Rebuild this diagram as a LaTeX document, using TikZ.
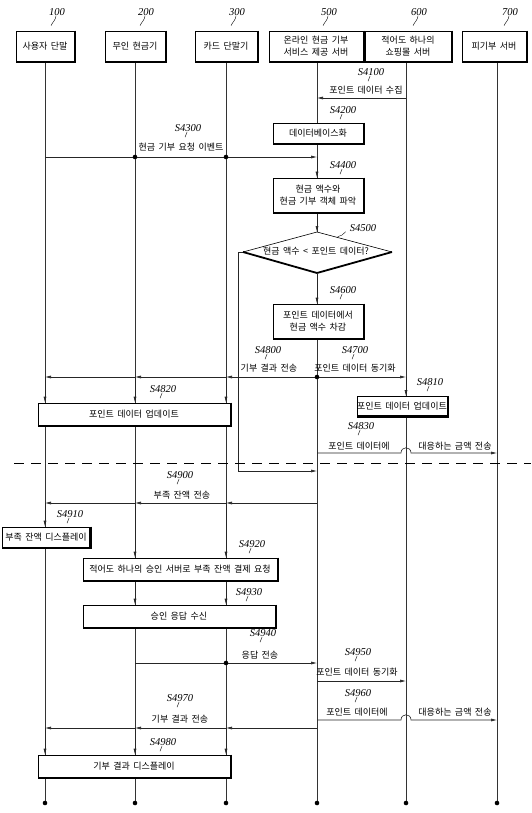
\documentclass[tikz,border=0pt]{standalone}
\usepackage{fontspec}
\setmainfont{Liberation Serif}
\newfontfamily\kr{Noto Sans CJK KR}[WordSpace=1.7]
\usetikzlibrary{arrows.meta,calc}
\newcommand{\stp}[4]{\node[lab] (#1) at (#2,#3) {#4};\draw[tk] ([xshift=-1pt,yshift=-0.5pt]#1.south) -- ++(-2,5);}
\newcommand{\shd}[1]{\draw[sh] ([xshift=0.8pt]#1.north east) -- ([xshift=0.8pt,yshift=-0.8pt]#1.south east) -- ([yshift=-0.8pt]#1.south west);}
\begin{document}
\begin{tikzpicture}[x=1pt,y=-1pt,
  kt/.style={font=\kr\fontsize{9}{11.5}\selectfont, inner sep=0pt, align=center},
  lab/.style={font=\itshape\fontsize{10.5}{12}\selectfont, inner sep=0pt},
  pbox/.style={draw, line width=0.6pt, fill=white, kt},
  life/.style={line width=0.6pt, black!80},
  msg/.style={line width=0.6pt, black!85},
  arr/.style={msg, -{Latex[length=6pt,width=3pt]}},
  sh/.style={line width=1.8pt},
  tk/.style={line width=0.4pt},
  dot/.style={circle, fill=black, inner sep=0pt, minimum size=4.6pt},
  ]
\useasboundingbox (0,0) rectangle (531,813);
% lifeline x positions
\coordinate (L1) at (45,0);
\coordinate (L2) at (135,0);
\coordinate (L3) at (226,0);
\coordinate (L4) at (317,0);
\coordinate (L5) at (406,0);
\coordinate (L6) at (497,0);
% end dots
\foreach \i/\x in {1/45,2/135,3/226,4/317,5/406,6/497}{\node[dot] (e\i) at (\x,803) {};}
% headers
\node[pbox, minimum width=58pt, minimum height=30pt] (h100) at (45,46) {사용자 단말};
\node[pbox, minimum width=60pt, minimum height=30pt] (h200) at (135,46) {무인 현금기};
\node[pbox, minimum width=62pt, minimum height=30pt] (h300) at (226,46) {카드 단말기};
\node[pbox, minimum width=94pt, minimum height=30pt] (h500) at (316,46) {온라인 현금 기부\\서비스 제공 서버};
\node[pbox, minimum width=86pt, minimum height=30pt] (h600) at (408,46) {적어도 하나의\\쇼핑몰 서버};
\node[pbox, minimum width=64pt, minimum height=30pt] (h700) at (494,46) {피기부 서버};
% lifelines
\draw[life] (h100.south -| L1) -- (e1);
\draw[life] (h200.south -| L2) -- (e2);
\draw[life] (h300.south -| L3) -- (e3);
\draw[life] (h500.south -| L4) -- (e4);
\draw[life] (h600.south -| L5) -- (e5);
\draw[life] (h700.south -| L6) -- (e6);
\foreach \n in {h100,h200,h300,h500,h600,h700}{\shd{\n}}
% header numbers
\foreach \n/\x in {100/57,200/146,300/237,500/329,600/419,700/510}{
  \node[lab] (n\n) at (\x,12) {\n};
  \draw[tk] ([xshift=-1pt]n\n.south) .. controls ++(0,4) and ++(1,-3) .. ++(-5,10);}
% S4100
\stp{s4100}{371}{72}{S4100}
\node[kt] (t4100) at (366,90) {포인트 데이터 수집};
\draw[arr] (L5|-0,98) -- (L4|-0,98);
% S4200
\stp{s4200}{343}{110}{S4200}
\node[pbox, minimum width=90pt, minimum height=20pt] (b4200) at (318,133) {데이터베이스화};
% S4300
\stp{s4300}{188}{128}{S4300}
\node[kt] (t4300) at (181,147) {현금 기부 요청 이벤트};
\draw[arr] (L1|-0,157) -- (L4|-0,157);
\node[dot] (d4300a) at (L2|-0,157) {};
\node[dot] (d4300b) at (L3|-0,157) {};
% S4400
\stp{s4400}{343}{165}{S4400}
\node[pbox, minimum width=90pt, minimum height=34pt] (b4400) at (318,195) {현금 액수와\\현금 기부 객체 파악};
\draw[arr] (L4|-0,157) -- (b4400.north -| L4);
% S4500 diamond
\coordinate (dT) at (317,232);
\coordinate (dR) at (392,252);
\coordinate (dB) at (317,273);
\coordinate (dL) at (243,252);
\fill[white] (dT) -- (dR) -- (dB) -- (dL) -- cycle;
\draw[line width=0.6pt] (dL) -- (dT) -- (dR);
\draw[line width=1.8pt, line join=miter] (dL) -- (dB) -- (dR);
\node[kt] (t4500) at (316,251) {현금 액수 < 포인트 데이터?};
\node[lab] (s4500) at (363,228) {S4500};
\draw[tk] ([xshift=-4pt]s4500.south west) .. controls ++(-2,3) and ++(3,-1) .. ++(-8,5);
\draw[arr] (b4400.south -| L4) -- (dT);
% S4600
\stp{s4600}{343}{290}{S4600}
\node[pbox, minimum width=90pt, minimum height=34pt] (b4600) at (318,321) {포인트 데이터에서\\현금 액수 차감};
\draw[arr] (dB) -- (b4600.north -| L4);
% feedback line
\coordinate (fb1) at (238,252);
\coordinate (fb2) at (238,471);
\draw[arr] (dL) -- (fb1) -- (fb2) -- (L4|-fb2);
% S4800 / S4700
\stp{s4800}{268}{350}{S4800}
\stp{s4700}{355}{350}{S4700}
\node[kt] (t4800) at (269,368) {기부 결과 전송};
\node[kt] (t4700) at (355,368) {포인트 데이터 동기화};
\draw[arr] (L4|-0,377) -- (L3|-0,377);
\draw[arr] (L3|-0,377) -- (L2|-0,377);
\draw[arr] (L2|-0,377) -- (L1|-0,377);
\draw[arr] (L4|-0,377) -- (L5|-0,377);
\node[dot] (d4800) at (L4|-0,377) {};
% S4820 / S4810
\stp{s4820}{163}{389}{S4820}
\node[pbox, minimum width=192pt, minimum height=22pt] (b4820) at (134,414) {포인트 데이터 업데이트};
\stp{s4810}{430}{382}{S4810}
\node[pbox, minimum width=88pt, minimum height=19pt] (b4810) at (402,406) {포인트 데이터 업데이트};
\draw[arr] (L1|-0,377) -- (b4820.north -| L1);
\draw[arr] (L2|-0,377) -- (b4820.north -| L2);
\draw[arr] (L3|-0,377) -- (b4820.north -| L3);
\draw[arr] (L5|-0,377) -- (b4810.north -| L5);
% S4830
\stp{s4830}{361}{426}{S4830}
\node[kt] (t4830a) at (359,446) {포인트 데이터에};
\node[kt] (t4830b) at (455,446) {대응하는 금액 전송};
\draw[arr] (L4|-0,453) -- (401,453) .. controls (401,446) and (411,446) .. (411,453) -- (L6|-0,453);
% dashed separator
\coordinate (dsL) at (14,463);
\coordinate (dsR) at (531,463);
\draw[line width=0.6pt, dash pattern=on 10pt off 7pt] (dsL) -- (dsR);
% S4900
\stp{s4900}{180}{475}{S4900}
\node[kt] (t4900) at (182,495) {부족 잔액 전송};
\draw[arr] (L4|-0,503) -- (L3|-0,503);
\draw[arr] (L3|-0,503) -- (L2|-0,503);
\draw[arr] (L2|-0,503) -- (L1|-0,503);
% S4910
\stp{s4910}{70}{514}{S4910}
\node[pbox, minimum width=87pt, minimum height=20pt] (b4910) at (46,537) {부족 잔액 디스플레이};
\draw[arr] (L1|-0,503) -- (b4910.north -| L1);
% S4920
\stp{s4920}{252}{544}{S4920}
\node[pbox, minimum width=194pt, minimum height=22pt] (b4920) at (180,569) {적어도 하나의 승인 서버로 부족 잔액 결제 요청};
\draw[arr] (L2|-0,503) -- (b4920.north -| L2);
\draw[arr] (L3|-0,503) -- (b4920.north -| L3);
% S4930
\stp{s4930}{249}{592}{S4930}
\node[pbox, minimum width=192pt, minimum height=22pt] (b4930) at (179,616) {승인 응답 수신};
\draw[arr] (b4920.south -| L2) -- (b4930.north -| L2);
\draw[arr] (b4920.south -| L3) -- (b4930.north -| L3);
% S4940
\stp{s4940}{263}{633}{S4940}
\node[kt] (t4940) at (260,655) {응답 전송};
\draw[arr] (L2|-0,663) -- (L4|-0,663);
\node[dot] (d4940) at (L3|-0,663) {};
% S4950
\stp{s4950}{358}{652}{S4950}
\node[kt] (t4950) at (357,672) {포인트 데이터 동기화};
\draw[arr] (L4|-0,681) -- (L5|-0,681);
% S4960
\stp{s4960}{358}{693}{S4960}
\node[kt] (t4960a) at (357,712) {포인트 데이터에};
\node[kt] (t4960b) at (455,712) {대응하는 금액 전송};
\draw[arr] (L4|-0,720) -- (401,720) .. controls (401,713) and (411,713) .. (411,720) -- (L6|-0,720);
% S4970
\stp{s4970}{180}{698}{S4970}
\node[kt] (t4970) at (180,719) {기부 결과 전송};
\draw[arr] (L4|-0,728) -- (L3|-0,728);
\draw[arr] (L3|-0,728) -- (L2|-0,728);
\draw[arr] (L2|-0,728) -- (L1|-0,728);
% S4980
\stp{s4980}{163}{742}{S4980}
\node[pbox, minimum width=192pt, minimum height=22pt] (b4980) at (134,766) {기부 결과 디스플레이};
\draw[arr] (L1|-0,728) -- (b4980.north -| L1);
\draw[arr] (L2|-0,728) -- (b4980.north -| L2);
\draw[arr] (L3|-0,728) -- (b4980.north -| L3);
% shadows
\foreach \n in {b4200,b4400,b4600,b4820,b4810,b4910,b4920,b4930,b4980}{\shd{\n}}
\end{tikzpicture}
\end{document}
